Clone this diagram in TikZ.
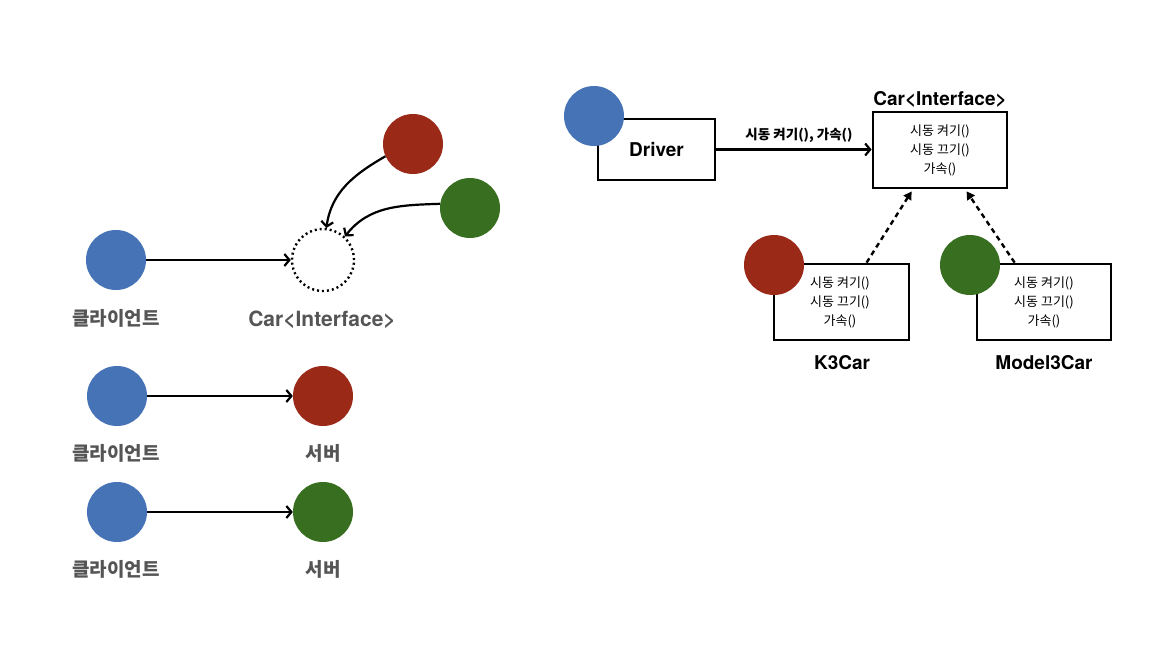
\documentclass[tikz,border=0pt]{standalone}
\usepackage{fontspec}
\setmainfont{TeX Gyre Heros}
\newfontfamily\kr{Noto Sans CJK KR}
\usetikzlibrary{arrows.meta,calc}
\definecolor{cblue}{HTML}{4673B6}
\definecolor{cred}{HTML}{9A2918}
\definecolor{cgreen}{HTML}{386E1F}
\definecolor{lgray}{HTML}{555555}
\begin{document}
\begin{tikzpicture}[x=1pt,y=-1pt,
  dot/.style={circle,minimum size=60pt,inner sep=0pt,draw=none},
  lbl/.style={font=\kr\bfseries\fontsize{19}{21}\selectfont,text=lgray},
  lblen/.style={font=\bfseries\fontsize{21}{23}\selectfont,text=lgray},
  title/.style={font=\bfseries\fontsize{19}{21}\selectfont},
  arr/.style={-{Straight Barb[length=5pt,width=12pt,line width=2.2pt]},line width=2.2pt},
  box/.style={draw,line width=2.8pt,inner sep=0pt},
  meth/.style={font=\kr\fontsize{13}{19}\selectfont,align=center},
  impl/.style={-{Triangle[length=8pt,width=9pt]},line width=2.4pt,dash pattern=on 5pt off 4pt}]
\useasboundingbox[fill=white] (0,0) rectangle (1167,652);

% ---- left: interface concept ----
\node[dot,fill=cblue] (c1) at (116,260) {};
\node[circle,minimum size=62pt,inner sep=0pt,draw,line width=2.4pt,dash pattern=on 2pt off 3pt] (dc) at (323,260) {};
\node[dot,fill=cred] (r1) at (413,144) {};
\node[dot,fill=cgreen] (g1) at (470,208) {};
\node[lbl] (l1) at (116,318) {클라이언트};
\node[lblen] (l2) at (322,320) {Car<Interface>};
\draw[arr] (c1) -- (dc);
\draw[arr] (r1.204) to[out=210,in=82] (dc.84);
\draw[arr] (g1.172) to[out=182,in=52] (dc.47);

% ---- row 2 ----
\node[dot,fill=cblue] (c2) at (117,396) {};
\node[dot,fill=cred] (s2) at (323,396) {};
\node[lbl] (l3) at (116,453) {클라이언트};
\node[lbl] (l4) at (323,453) {서버};
\draw[arr] (c2) -- (s2);

% ---- row 3 ----
\node[dot,fill=cblue] (c3) at (117,512) {};
\node[dot,fill=cgreen] (s3) at (323,512) {};
\node[lbl] (l5) at (116,569) {클라이언트};
\node[lbl] (l6) at (323,569) {서버};
\draw[arr] (c3) -- (s3);

% ---- right: class diagram ----
\node[box,minimum width=117pt,minimum height=61pt,font=\bfseries\fontsize{19}{21}\selectfont] (drv) at (656.5,149.5) {Driver};
\node[box,minimum width=134pt,minimum height=76pt] (car) at (940,150) {};
\node[meth] (carm) at (940,150) {시동 켜기()\\시동 끄기()\\가속()};
\node[title] (cart) at (940,99) {Car<Interface>};

\node[box,minimum width=135pt,minimum height=76pt] (k3) at (841.5,302) {};
\node[meth] (k3m) at (840,302) {시동 켜기()\\시동 끄기()\\가속()};
\node[title] (k3t) at (842,363) {K3Car};

\node[box,minimum width=134pt,minimum height=76pt] (m3) at (1044,302) {};
\node[meth] (m3m) at (1044,302) {시동 켜기()\\시동 끄기()\\가속()};
\node[title] (m3t) at (1044,363) {Model3Car};

\node[dot,fill=cblue] (dc1) at (594,116) {};
\node[dot,fill=cred] (dc2) at (774,265) {};
\node[dot,fill=cgreen] (dc3) at (970,265) {};

\draw[arr] (drv.east) -- node[above=3pt,xshift=5pt,font=\kr\bfseries\fontsize{13.5}{15}\selectfont] {시동 켜기(), 가속()} (drv.east -| car.west);
\draw[impl] ($(k3.north west)+(94,0)$) -- ($(car.south west)+(40,2)$);
\draw[impl] ($(m3.north west)+(39,0)$) -- ($(car.south west)+(95,2)$);
\end{tikzpicture}
\end{document}
